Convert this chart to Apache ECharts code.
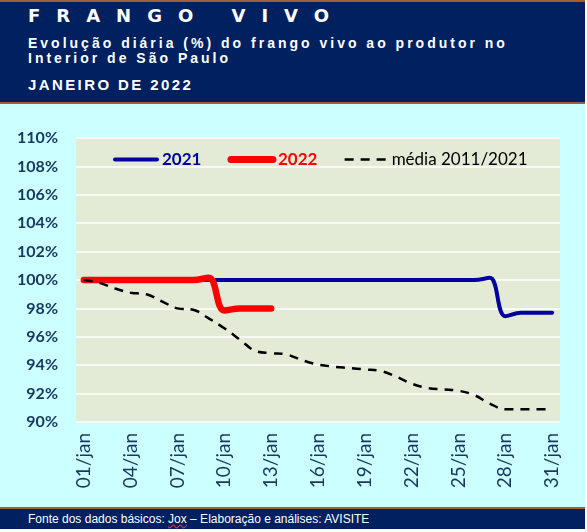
<!DOCTYPE html>
<html>
<head>
<meta charset="utf-8">
<script src="https://cdn.jsdelivr.net/npm/echarts@6/dist/echarts.min.js"></script>
<style>
  html, body { margin: 0; padding: 0; background: #ffffff; }
  #page { position: relative; width: 587px; height: 532px; overflow: hidden; }
  #head {
    position: absolute; left: 0; top: 0; width: 585px; height: 100px;
    background: #00205f; border-top: 2px solid #a0603a; border-bottom: 2px solid #a0603a;
    color: #ffffff; font-family: "Liberation Sans", Arial, sans-serif; font-weight: bold;
  }
  #t1 { position: absolute; left: 28px; top: 3px; font-family: "DejaVu Sans", sans-serif; font-size: 18px; letter-spacing: 16px; }
  #t2 { position: absolute; left: 28px; top: 34px; font-size: 14px; letter-spacing: 3px; line-height: 15px; }
  #t3 { position: absolute; left: 28px; top: 74px; font-size: 15px; letter-spacing: 2.4px; }
  #chart { position: absolute; left: 0; top: 104px; width: 585px; height: 403px; background: #ccffff; }
  #foot {
    position: absolute; left: 0; top: 507px; width: 585px; height: 20px;
    background: #00205f; border-top: 2px solid #a0603a;
    color: #ffffff; font-family: "Liberation Sans", Arial, sans-serif; font-size: 12px;
  }
  #foot span { position: absolute; left: 28px; top: 3px; }
  .sq { text-decoration: underline wavy #e03030; }
</style>
</head>
<body>
<div id="page">
  <div id="head">
    <div id="t1">FRANGO VIVO</div>
    <div id="t2">Evolução diária (%) do frango vivo ao produtor no<br>Interior de São Paulo</div>
    <div id="t3">JANEIRO DE 2022</div>
  </div>
  <div id="chart"></div>
  <div id="foot"><span>Fonte dos dados básicos: <span class="sq" style="position:static">Jox</span> – Elaboração e análises: AVISITE</span></div>
</div>
<script>
// dias de janeiro
var days = ['01/jan', '02/jan', '03/jan', '04/jan', '05/jan', '06/jan', '07/jan', '08/jan',
    '09/jan', '10/jan', '11/jan', '12/jan', '13/jan', '14/jan', '15/jan', '16/jan',
    '17/jan', '18/jan', '19/jan', '20/jan', '21/jan', '22/jan', '23/jan', '24/jan',
    '25/jan', '26/jan', '27/jan', '28/jan', '29/jan', '30/jan', '31/jan'];

// índice diário (%)
var v2021 = [100, 100, 100, 100, 100, 100, 100, 100, 100, 100,
    100, 100, 100, 100, 100, 100, 100, 100, 100, 100,
    100, 100, 100, 100, 100, 100, 100.15, 97.45, 97.7, 97.7, 97.7];
var v2022 = [100, 100, 100, 100, 100, 100, 100, 100, 100.15, 97.85, 98, 98, 98];
var media = [100, 99.8, 99.4, 99.1, 99.0, 98.5, 98.0, 97.9, 97.3, 96.6,
    95.8, 95.0, 94.85, 94.75, 94.35, 94.05, 93.9, 93.8, 93.7, 93.6,
    93.2, 92.7, 92.4, 92.3, 92.2, 91.9, 91.3, 90.9, 90.9, 90.9, 90.9];

var names = ['2021', '2022', 'média 2011/2021'];

function makeOption() {
    var option = {
        animation: false,
        grid: {
            left: 76, top: 34, width: 484, height: 284,
            show: true, backgroundColor: '#e3ebd7', borderWidth: 0
        },
        legend: {
            left: 113, top: 47, padding: 0, itemGap: 26, itemWidth: 42, itemHeight: 14,
            itemStyle: { opacity: 0 },
            textStyle: { fontFamily: 'Lato', fontSize: 17, fontWeight: 'bold' },
            data: [
                { name: names[0], textStyle: { color: '#0000a0' },
                  lineStyle: { width: 4, color: '#0000a0' } },
                { name: names[1], textStyle: { color: '#ff0000' },
                  lineStyle: { width: 7, color: '#ff0000', cap: 'round' } },
                { name: names[2], textStyle: { color: '#000000', fontWeight: 'normal' },
                  lineStyle: { width: 2.5, color: '#000000', type: [9, 7] } }
            ]
        },
        xAxis: {
            type: 'category',
            data: days,
            boundaryGap: true,
            axisLine: { show: false },
            axisTick: { show: false },
            axisLabel: {
                interval: 2, rotate: 90, margin: 11,
                color: '#17375e', fontFamily: 'Lato', fontSize: 19
            }
        },
        yAxis: {
            type: 'value',
            min: 90, max: 110, interval: 2,
            axisLine: { show: false },
            axisTick: { show: false },
            axisLabel: {
                formatter: '{value}%', margin: 18,
                color: '#17375e', fontFamily: 'Lato', fontSize: 16, fontWeight: 'bold'
            },
            splitLine: { lineStyle: { color: '#ffffff', width: 1.5 } }
        },
        series: [{
            name: names[0], type: 'line', data: v2021,
            smooth: 0.4, symbol: 'none',
            itemStyle: { color: '#0000a0' },
            lineStyle: { color: '#0000a0', width: 4, cap: 'round' }
        }, {
            name: names[1], type: 'line', data: v2022,
            smooth: 0.4, symbol: 'none',
            itemStyle: { color: '#ff0000' },
            lineStyle: { color: '#ff0000', width: 6.5, cap: 'round' }
        }, {
            name: names[2], type: 'line', data: media,
            smooth: 0.4, symbol: 'none',
            itemStyle: { color: '#000000' },
            lineStyle: { color: '#000000', width: 2.5, type: [9, 7] }
        }]
    };
    return option;
}

var myChart = echarts.init(document.getElementById('chart'));
myChart.setOption(makeOption());
</script>
</body>
</html>
